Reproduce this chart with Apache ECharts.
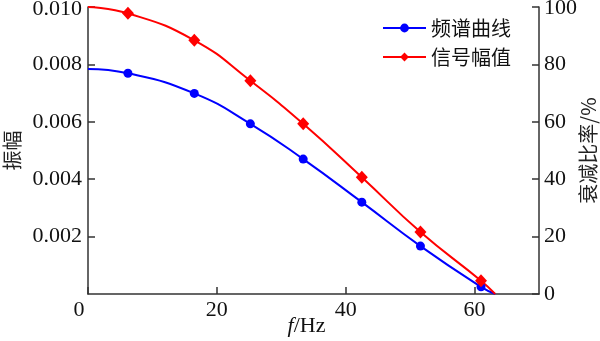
<!DOCTYPE html>
<html><head><meta charset="utf-8">
<script src="https://cdn.jsdelivr.net/npm/echarts@6/dist/echarts.min.js"></script>
<style>html,body{margin:0;padding:0;background:#fff}#c{width:600px;height:341px}</style>
</head><body><div id="c"></div>
<script>
// Data
const freq = [6.2, 16.5, 25.2, 33.4, 42.5, 51.6, 61.0];
const spectrum = [0.00769, 0.00699, 0.00593, 0.00470, 0.00320, 0.00167, 0.00025];
const signal = [97.8, 88.4, 74.3, 59.3, 40.7, 21.6, 4.6];
const curveStartX = 0, curveEndX = 63.2;
const spectrumStart = 0.00784, signalStart = 100;
const xTicks = [0, 20, 40, 60];
const leftTicks = ['0', '0.002', '0.004', '0.006', '0.008', '0.010'];
const rightTicks = ['0', '20', '40', '60', '80', '100'];
const seriesNames = ['频谱曲线', '信号幅值'];

const serif = "'Times New Roman','Liberation Serif','Noto Sans CJK SC',serif";
const cjk = "'Noto Sans CJK SC','Liberation Serif',sans-serif";
const axisColor = '#333';

function build(start, vals, end) {
  const d = [{value: [curveStartX, start], symbol: 'none'}];
  freq.forEach((x, i) => d.push([x, vals[i]]));
  d.push({value: [curveEndX, end], symbol: 'none'});
  return d;
}
const lab = {fontFamily: serif, fontSize: 22, color: '#111'};

const chart = echarts.init(document.getElementById('c'), null, {renderer: 'canvas'});
chart.setOption({
  animation: false,
  backgroundColor: '#fff',
  grid: {left: 88, right: 61, top: 7, bottom: 47, containLabel: false, outerBoundsMode: 'none'},
  legend: {
    orient: 'vertical', left: 377, top: 13, itemGap: 9,
    itemWidth: 43, itemHeight: 11,
    textStyle: {fontFamily: cjk, fontSize: 20, color: '#111'},
    data: seriesNames
  },
  xAxis: {
    type: 'value', min: 0, max: 70, interval: 20,
    name: '{i|f}{n|/Hz}', nameLocation: 'middle', nameGap: 21, nameMoveOverlap: false,
    nameTextStyle: {
      verticalAlign: 'top', padding: [0, 14, 0, 0],
      rich: {
        i: {fontFamily: serif, fontStyle: 'italic', fontSize: 22, color: '#111'},
        n: {fontFamily: serif, fontSize: 22, color: '#111'}
      }
    },
    axisLine: {show: true, lineStyle: {color: axisColor, width: 1.5}},
    axisTick: {show: true, inside: true, length: 7, lineStyle: {color: axisColor, width: 1.5}},
    splitLine: {show: false},
    axisLabel: Object.assign({}, lab, {
      margin: 5, showMaxLabel: false,
      formatter: v => { const i = xTicks.indexOf(v); if (i < 0) return ''; return v === 0 ? '{z|' + xTicks[i] + '}' : String(xTicks[i]); },
      rich: {z: Object.assign({}, lab, {padding: [0, 18, 0, 0]})}
    })
  },
  yAxis: [{
    type: 'value', min: 0, max: 0.01, interval: 0.002, position: 'left',
    name: '振幅', nameLocation: 'middle', nameGap: 66, nameRotate: 90, nameMoveOverlap: false,
    nameTextStyle: {fontFamily: cjk, fontSize: 20, color: '#222'},
    axisLine: {show: true, lineStyle: {color: axisColor, width: 1.5}},
    axisTick: {show: true, inside: true, length: 7, lineStyle: {color: axisColor, width: 1.5}},
    splitLine: {show: false},
    axisLabel: Object.assign({}, lab, {
      margin: 6, showMinLabel: false,
      formatter: v => { const i = Math.round(v / 0.002); return i === 5 ? '{t|' + leftTicks[i] + '}' : leftTicks[i]; },
      rich: {t: Object.assign({}, lab, {padding: [5, 0, 0, 0]})}
    })
  }, {
    type: 'value', min: 0, max: 100, interval: 20, position: 'right',
    name: '衰减比率/%', nameLocation: 'middle', nameGap: 39, nameRotate: 90, nameMoveOverlap: false,
    nameTextStyle: {fontFamily: cjk, fontSize: 20, color: '#222'},
    axisLine: {show: true, lineStyle: {color: axisColor, width: 1.5}},
    axisTick: {show: true, inside: true, length: 7, lineStyle: {color: axisColor, width: 1.5}},
    splitLine: {show: false},
    axisLabel: Object.assign({}, lab, {
      margin: 5,
      formatter: v => { const i = Math.round(v / 20); return i === 5 ? '{t|' + rightTicks[i] + '}' : rightTicks[i]; },
      rich: {t: Object.assign({}, lab, {padding: [3, 0, 0, 0]})}
    })
  }],
  series: [{
    name: seriesNames[0], type: 'line', yAxisIndex: 0, smooth: 0.5,
    symbol: 'circle', symbolSize: 9,
    lineStyle: {color: '#0000ff', width: 2}, itemStyle: {color: '#0000ff'},
    data: build(spectrumStart, spectrum, 0)
  }, {
    name: seriesNames[1], type: 'line', yAxisIndex: 1, smooth: 0.5,
    symbol: 'diamond', symbolSize: [12, 13],
    lineStyle: {color: '#ff0000', width: 2}, itemStyle: {color: '#ff0000'},
    data: build(signalStart, signal, 0)
  }]
});
</script></body></html>
